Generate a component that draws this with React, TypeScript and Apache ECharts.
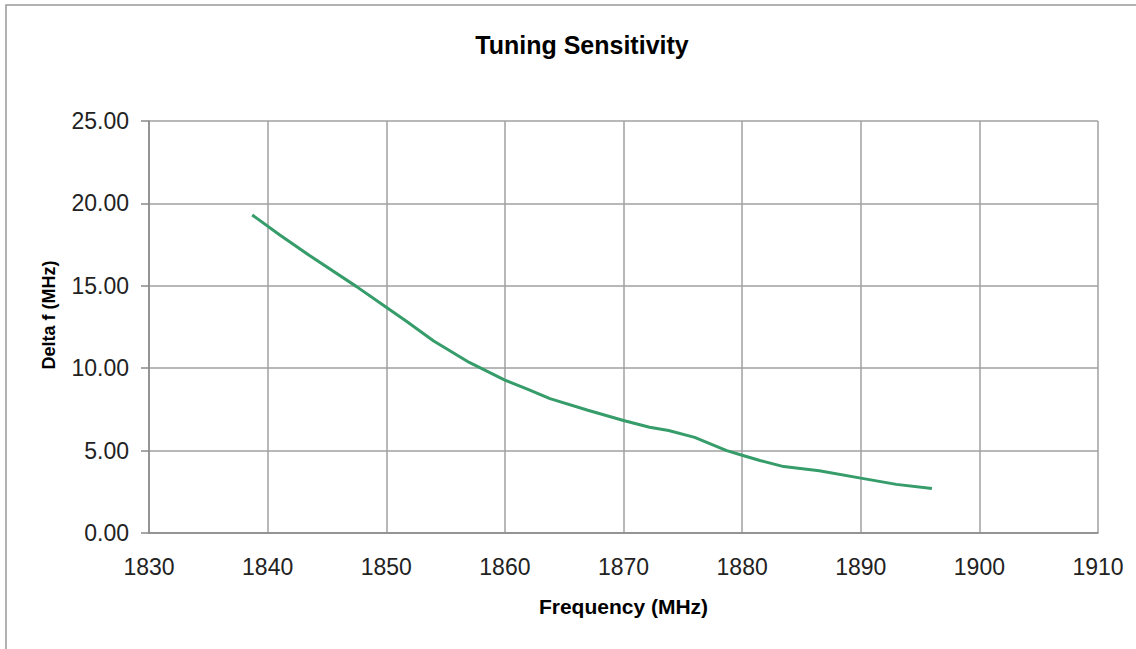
import React, { useEffect, useRef } from "react";
import * as echarts from "echarts";

const TITLE = "Tuning Sensitivity";
const X_NAME = "Frequency (MHz)";
const Y_NAME = "Delta f (MHz)";

const frequency = [
  1838.7, 1841.0, 1843.5, 1847.5, 1850.0, 1851.7, 1854.0, 1857.0, 1860.0, 1862.0,
  1863.8, 1867.0, 1870.0, 1872.2, 1873.8, 1876.0, 1878.7, 1880.0, 1881.5, 1883.5,
  1886.5, 1890.0, 1893.0, 1896.0,
];
const deltaF = [
  19.3, 18.1, 16.85, 14.95, 13.7, 12.85, 11.65, 10.35, 9.28, 8.7,
  8.15, 7.45, 6.83, 6.42, 6.22, 5.8, 5.0, 4.72, 4.4, 4.03,
  3.78, 3.33, 2.95, 2.7,
];

const X_MIN = 1830;
const X_MAX = 1910;
const X_STEP = 10;
const Y_MIN = 0;
const Y_MAX = 25;
const Y_STEP = 5;

export default function App() {
  const ref = useRef<HTMLDivElement>(null);
  useEffect(() => {
    if (!ref.current) return;
    const chart = echarts.init(ref.current, undefined, { renderer: "svg" });
    const font = "'Liberation Sans', Arial, sans-serif";
    chart.setOption({
      animation: false,
      backgroundColor: "#ffffff",
      title: {
        text: TITLE,
        left: 577,
        textAlign: "center",
        top: 27,
        textStyle: { fontFamily: font, fontSize: 25, fontWeight: "bold", color: "#000" },
      },
      grid: { left: 149, right: 38, top: 121, bottom: 116, containLabel: false },
      xAxis: {
        type: "value",
        min: X_MIN,
        max: X_MAX,
        interval: X_STEP,
        name: X_NAME,
        nameLocation: "middle",
        nameGap: 63,
        nameTextStyle: { fontFamily: font, fontSize: 21, fontWeight: "bold", color: "#000" },
        axisLine: { show: true, lineStyle: { color: "#888", width: 1.5 } },
        axisTick: { show: false },
        axisLabel: {
          fontFamily: font,
          fontSize: 23,
          color: "#222",
          margin: 22,
          formatter: (v: number) => String(v),
        },
        splitLine: { show: true, lineStyle: { color: "#a0a0a0", width: 1.5 } },
      },
      yAxis: {
        type: "value",
        min: Y_MIN,
        max: Y_MAX,
        interval: Y_STEP,
        axisLine: { show: true, lineStyle: { color: "#888", width: 1.5 } },
        axisTick: { show: true, inside: false, length: 8, lineStyle: { color: "#888", width: 1.5 } },
        axisLabel: {
          fontFamily: font,
          fontSize: 23,
          color: "#222",
          margin: 20,
          formatter: (v: number) => v.toFixed(2),
        },
        splitLine: { show: true, lineStyle: { color: "#a0a0a0", width: 1.5 } },
      },
      graphic: [
        {
          type: "rect",
          shape: { x: 6, y: 5, width: 1300, height: 800 },
          style: { fill: "none", stroke: "#999", lineWidth: 1.5 },
          silent: true,
        },
        {
          type: "text",
          x: 49,
          y: 315,
          rotation: Math.PI / 2,
          style: {
            text: Y_NAME,
            align: "center",
            verticalAlign: "middle",
            font: `bold 18px ${font}`,
            fill: "#000",
          },
        },
      ],
      series: [
        {
          type: "line",
          data: frequency.map((f, i) => [f, deltaF[i]]),
          showSymbol: false,
          smooth: false,
          lineStyle: { color: "#359c6a", width: 3 },
        },
      ],
    });
    return () => chart.dispose();
  }, []);
  return (
    <div
      ref={ref}
      style={{ position: "fixed", left: 0, top: 0, width: 1136, height: 649 }}
    />
  );
}
